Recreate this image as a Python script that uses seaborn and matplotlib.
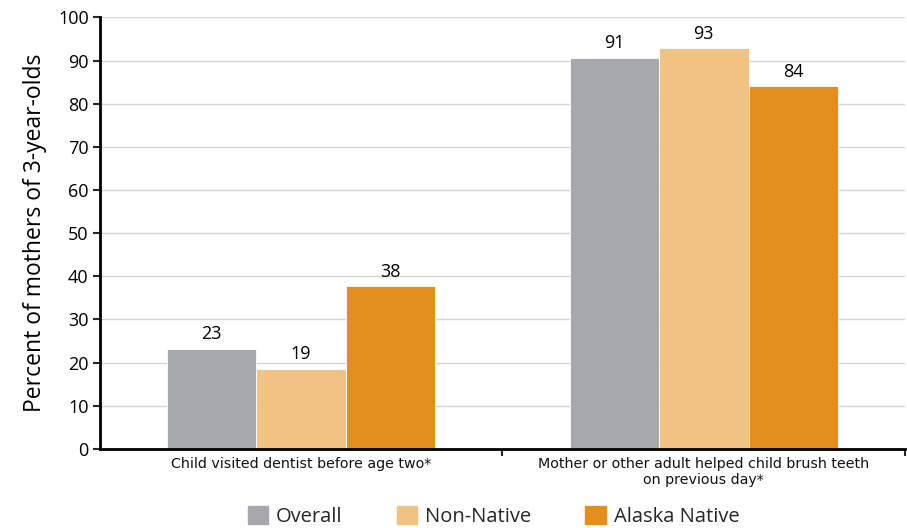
import pandas as pd
import seaborn as sns
import matplotlib.pyplot as plt
from matplotlib.ticker import FixedLocator

sns.set_style('white')
plt.rcParams['font.family'] = ['Open Sans', 'DejaVu Sans']

# data
categories = ['Child visited dentist before age two*',
              'Mother or other adult helped child brush teeth\non previous day*']
groups = ['Overall', 'Non-Native', 'Alaska Native']
overall = [23.2, 90.6]
non_native = [18.6, 92.8]
alaska_native = [37.7, 84.0]
colors = ['#A7A8AB', '#F0C283', '#E38F1E']

df = pd.DataFrame({
    'category': categories * 3,
    'group': [g for g in groups for _ in categories],
    'value': overall + non_native + alaska_native,
})

fig = plt.figure(figsize=(9.07, 5.28), dpi=100)
ax = fig.add_axes([0.110, 0.150, 0.888, 0.817])

sns.barplot(data=df, x='category', y='value', hue='group', hue_order=groups,
            palette=colors, width=0.667, gap=0, edgecolor='white', linewidth=0.6,
            saturation=1, ax=ax, legend=False)

for c in ax.containers:
    ax.bar_label(c, fmt='%.0f', padding=4, fontsize=13, color='black')

ax.set_ylim(0, 100)
ax.set_xlim(-0.5, 1.5)
ax.set_yticks(range(0, 101, 10))
ax.tick_params(axis='y', labelsize=13, length=5, width=1.5, direction='out',
               left=True, pad=3, labelcolor='black')
ax.yaxis.grid(True, color='#D4D4D4', linewidth=1)
ax.set_axisbelow(True)

# category labels without marks, boundary ticks as minor
ax.set_xticks([0, 1])
ax.set_xticklabels(categories, fontsize=10.3, color='#111111',
                   family=['Liberation Sans Narrow', 'DejaVu Sans'])
ax.tick_params(axis='x', which='major', length=0, pad=6)
ax.xaxis.set_minor_locator(FixedLocator([0.5, 1.5]))
ax.tick_params(axis='x', which='minor', length=5, width=1.5, direction='out', bottom=True)

ax.set_xlabel('')
ax.set_ylabel('Percent of mothers of 3-year-olds', fontsize=16.5, labelpad=8, color='black')

for s in ['top', 'right']:
    ax.spines[s].set_visible(False)
ax.spines['left'].set_linewidth(2)
ax.spines['bottom'].set_linewidth(2)
ax.spines['left'].set_color('black')
ax.spines['bottom'].set_color('black')

handles = [plt.Rectangle((0, 0), 1, 1, color=c) for c in colors]
fig.legend(handles, groups, loc='center', bbox_to_anchor=(0.544, 0.022), ncol=3,
           frameon=False, fontsize=14.5, handlelength=1.0, handleheight=1.0,
           handletextpad=0.4, columnspacing=2.7, borderaxespad=0)

fig.savefig('out.png', dpi=100)
